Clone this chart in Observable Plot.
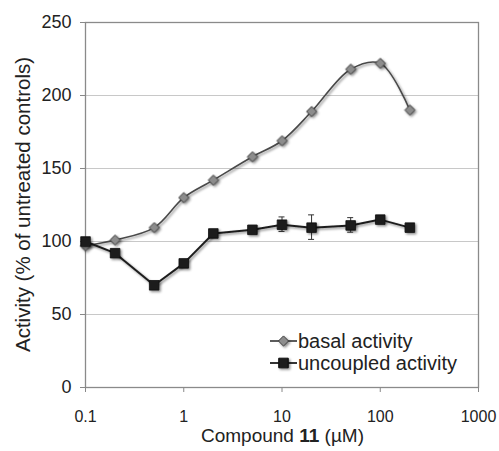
<!DOCTYPE html>
<html>
<head>
<meta charset="utf-8">
<script src="https://cdn.jsdelivr.net/npm/d3@7"></script>
<script src="https://cdn.jsdelivr.net/npm/@observablehq/plot@0.6"></script>
<style>
  html, body { margin: 0; padding: 0; background: #fff; }
  #chart svg { display: block; }
  #chart g[aria-label="x-axis tick label"], #chart g[aria-label="x-axis tick label"] text { font-size: 16px !important; }
  #chart g[aria-label="y-axis tick label"], #chart g[aria-label="y-axis tick label"] text { font-size: 18px !important; }
</style>
</head>
<body>
<div id="chart"></div>
<script>
const concentrations = [0.1, 0.2, 0.5, 1, 2, 5, 10, 20, 50, 100, 200];
const basalActivity = [97, 101, 109.5, 130, 142, 158, 169, 189, 218, 222, 190];
const uncoupledActivity = [100, 92, 70, 85, 105.5, 108, 111.5, 109.5, 111, 115, 109.5];
const uncoupledError = [1.5, 1.5, 1.5, 2.5, 1.5, 2, 5, 8.4, 5, 2, 1.5];
const xTicks = [0.1, 1, 10, 100, 1000];
const yTicks = [0, 50, 100, 150, 200, 250];
const gridLines = [50, 100, 150, 200];
const seriesNames = ["basal activity", "uncoupled activity"];

const basal = concentrations.map((c, i) => ({x: c, y: basalActivity[i]}));
const uncoupled = concentrations.map((c, i) => ({x: c, y: uncoupledActivity[i], e: uncoupledError[i]}));

const W = 499, H = 451;
const font = "Liberation Sans, Arial, sans-serif";

const plot = Plot.plot({
  width: W,
  height: H,
  marginLeft: 85,
  marginRight: 21,
  marginTop: 22,
  marginBottom: 64,
  style: {fontFamily: font, fontSize: "17px", color: "#222", background: "#fff"},
  x: {type: "log", domain: [0.1, 1000], label: null},
  y: {domain: [0, 250], label: null},
  marks: [
    Plot.ruleY(gridLines, {stroke: "#c8c8c8", strokeWidth: 1}),
    Plot.frame({stroke: "#8a8a8a", strokeWidth: 1.3}),
    Plot.axisX({ticks: xTicks, tickFormat: d => String(d), tickSize: 5, tickPadding: 15, stroke: "#888", fill: "#222", label: null}),
    Plot.axisY({ticks: yTicks, tickSize: 5, tickPadding: 9, stroke: "#888", fill: "#222", label: null}),
    Plot.ruleX(uncoupled, {x: "x", y1: d => d.y - d.e, y2: d => d.y + d.e, stroke: "#333", strokeWidth: 1}),
    Plot.line(basal, {x: "x", y: "y", curve: "catmull-rom", stroke: "#4a4a4a", strokeWidth: 1.6}),
    Plot.line(uncoupled, {x: "x", y: "y", stroke: "#1e1e1e", strokeWidth: 2}),
    Plot.dot(basal, {x: "x", y: "y", symbol: "diamond2", r: 4.6, fill: "#8c8c8c", stroke: "#3c3c3c", strokeWidth: 1}),
    Plot.dot(uncoupled, {x: "x", y: "y", symbol: "square", r: 5.4, fill: "#1c1c1c", stroke: "#111", strokeWidth: 0.8})
  ]
});

const svg = d3.select(plot);

// nudge x tick labels down a little
svg.selectAll('g[aria-label="x-axis tick label"]').each(function() {
  const g = d3.select(this);
  g.attr("transform", ((g.attr("transform") || "") + " translate(0,3.5)").trim());
});

// drop shadow filter like the original
const defs = svg.insert("defs", ":first-child");
const f = defs.append("filter").attr("id", "shadow").attr("x", "-50%").attr("y", "-50%").attr("width", "200%").attr("height", "200%");
f.append("feDropShadow").attr("dx", 1.5).attr("dy", 1.5).attr("stdDeviation", 1.2).attr("flood-color", "#000").attr("flood-opacity", 0.45);
svg.selectAll('g[aria-label="dot"], g[aria-label="line"]').attr("filter", "url(#shadow)");

// error bar caps
const xs = plot.scale("x"), ys = plot.scale("y");
const caps = svg.append("g").attr("stroke", "#333").attr("stroke-width", 1);
uncoupled.forEach(d => {
  if (d.e < 3) return;
  [d.y - d.e, d.y + d.e].forEach(v => {
    caps.append("line")
      .attr("x1", xs.apply(d.x) - 3).attr("x2", xs.apply(d.x) + 3)
      .attr("y1", ys.apply(v)).attr("y2", ys.apply(v));
  });
});

// axis titles
svg.append("text")
  .attr("transform", `translate(23,${(22 + 387) / 2}) rotate(-90)`)
  .attr("text-anchor", "middle")
  .attr("dy", "0.35em")
  .attr("font-family", font).attr("font-size", 20.5).attr("fill", "#222")
  .text("Activity (% of untreated controls)");

const xl = svg.append("text")
  .attr("x", 282.5).attr("y", 442)
  .attr("text-anchor", "middle")
  .attr("font-family", font).attr("font-size", 19).attr("fill", "#222");
xl.append("tspan").text("Compound ");
xl.append("tspan").attr("font-weight", "bold").text("11");
xl.append("tspan").text(" (µM)");

// legend
const lg = svg.append("g").attr("font-family", font).attr("font-size", 20).attr("fill", "#222").attr("text-anchor", "start");
const rows = [
  {name: seriesNames[0], y: 341, symbol: d3.symbolDiamond2, size: 66, fill: "#8c8c8c", stroke: "#3c3c3c", line: "#4a4a4a"},
  {name: seriesNames[1], y: 363, symbol: d3.symbolSquare, size: 92, fill: "#1c1c1c", stroke: "#111", line: "#1e1e1e"}
];
rows.forEach(r => {
  lg.append("line").attr("x1", 270).attr("x2", 297).attr("y1", r.y).attr("y2", r.y)
    .attr("stroke", r.line).attr("stroke-width", 1.8);
  lg.append("path").attr("d", d3.symbol(r.symbol, r.size)())
    .attr("transform", `translate(283.5,${r.y})`)
    .attr("fill", r.fill).attr("stroke", r.stroke).attr("stroke-width", 1)
    .attr("filter", "url(#shadow)");
  lg.append("text").attr("x", 298).attr("y", r.y).attr("dy", "0.35em").attr("text-anchor", "start").text(r.name);
});

document.getElementById("chart").appendChild(plot);
</script>
</body>
</html>
